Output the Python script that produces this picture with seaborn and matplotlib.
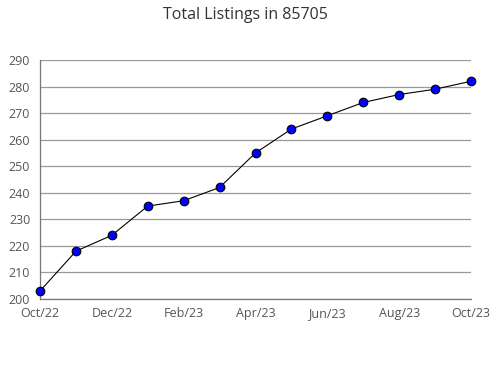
import matplotlib
matplotlib.use("Agg")
import matplotlib.pyplot as plt
import seaborn as sns
import pandas as pd
from matplotlib.ticker import MultipleLocator

months = ["Oct/22", "Nov/22", "Dec/22", "Jan/23", "Feb/23", "Mar/23", "Apr/23",
          "May/23", "Jun/23", "Jul/23", "Aug/23", "Sep/23", "Oct/23"]
listings = [203, 218, 224, 235, 237, 242, 255, 264, 269, 274, 277, 279, 282]
tick_labels = ["Oct/22", "Dec/22", "Feb/23", "Apr/23", "Jun/23", "Aug/23", "Oct/23"]

df = pd.DataFrame({"idx": range(len(months)), "month": months, "value": listings})

sns.set_style("white")
plt.rcParams["font.family"] = ["Open Sans", "DejaVu Sans"]

fig = plt.figure(figsize=(4.9, 3.8), dpi=100)
ax = fig.add_axes([40/490, 81/380, 431/490, 239/380])

sns.lineplot(data=df, x="idx", y="value", ax=ax, color="black", linewidth=0.8,
             marker="o", markersize=6.2, markerfacecolor="#0000ff",
             markeredgecolor="black", markeredgewidth=0.8, clip_on=False, zorder=3)

ax.set_xlim(0, len(months) - 1)
ax.set_ylim(200, 290)
ax.yaxis.set_major_locator(MultipleLocator(10))
ax.yaxis.set_minor_locator(MultipleLocator(5))
ax.set_xticks(range(len(months)))
ax.set_xticklabels([m if m in tick_labels else "" for m in months])
ax.grid(axis="y", which="major", color="#999999", linewidth=0.9)
ax.set_axisbelow(True)
for s in ["top", "right"]:
    ax.spines[s].set_visible(False)
for s in ["left", "bottom"]:
    ax.spines[s].set_color("#777777")
    ax.spines[s].set_linewidth(0.9)
ax.tick_params(axis="both", which="both", direction="out", colors="#777777",
               labelcolor="#555555", labelsize=9, length=5, width=0.8)
ax.tick_params(axis="y", which="minor", length=3)
ax.tick_params(axis="y", pad=2)
ax.tick_params(axis="x", pad=1)
ax.set_xlabel("")
ax.set_ylabel("")
fig.text(0.5, 1 - 15/380, "Total Listings in 85705", ha="center", va="center",
         fontsize=11.5, color="#333333")

fig.savefig("out.png", dpi=100)
